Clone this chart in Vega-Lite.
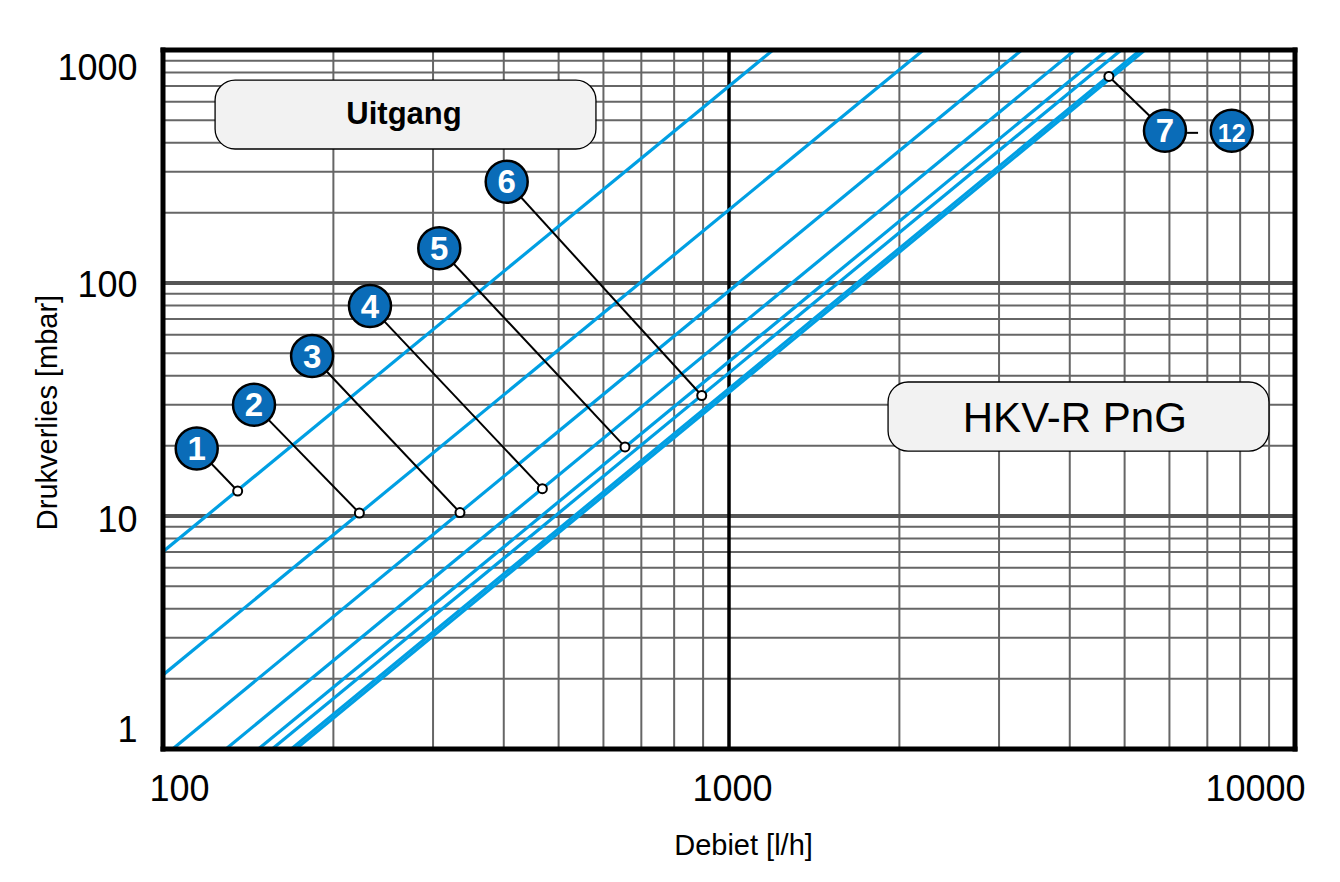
{
  "$schema": "https://vega.github.io/schema/vega-lite/v6.json",
  "width": 1132,
  "height": 699,
  "autosize": {"type": "none"},
  "padding": {"left": 163, "top": 50, "right": 45, "bottom": 133},
  "background": "white",
  "config": {"view": {"stroke": null}, "font": "Liberation Sans"},
  "datasets": {
    "xminor": [{"Q": 200}, {"Q": 300}, {"Q": 400}, {"Q": 500}, {"Q": 600}, {"Q": 700}, {"Q": 800}, {"Q": 900}, {"Q": 2000}, {"Q": 3000}, {"Q": 4000}, {"Q": 5000}, {"Q": 6000}, {"Q": 7000}, {"Q": 8000}, {"Q": 9000}],
    "xmajor": [{"Q": 1000}],
    "yminor": [{"p": 2}, {"p": 3}, {"p": 4}, {"p": 5}, {"p": 6}, {"p": 7}, {"p": 8}, {"p": 9}, {"p": 20}, {"p": 30}, {"p": 40}, {"p": 50}, {"p": 60}, {"p": 70}, {"p": 80}, {"p": 90}, {"p": 200}, {"p": 300}, {"p": 400}, {"p": 500}, {"p": 600}, {"p": 700}, {"p": 800}, {"p": 900}],
    "ymajor": [{"p": 10}, {"p": 100}],
    "framex": [{"Q": 100}, {"Q": 10000}],
    "framey": [{"p": 1}, {"p": 1000}],
    "curves": [
      {"id": "1", "Q": 100, "p": 7.03}, {"id": "1", "Q": 1196, "p": 1000},
      {"id": "2", "Q": 100, "p": 2.08}, {"id": "2", "Q": 2205, "p": 1000},
      {"id": "3", "Q": 104, "p": 1}, {"id": "3", "Q": 3290, "p": 1000},
      {"id": "4", "Q": 129.2, "p": 1}, {"id": "4", "Q": 4085, "p": 1000},
      {"id": "5", "Q": 147.4, "p": 1}, {"id": "5", "Q": 4660, "p": 1000},
      {"id": "6", "Q": 155.9, "p": 1}, {"id": "6", "Q": 4930, "p": 1000},
      {"id": "7a", "Q": 168.5, "p": 1}, {"id": "7a", "Q": 5330, "p": 1000},
      {"id": "7b", "Q": 171.7, "p": 1}, {"id": "7b", "Q": 5430, "p": 1000}
    ],
    "leaders": [
      {"id": "1", "Q": 114.7, "p": 19.5}, {"id": "1", "Q": 135.5, "p": 12.8},
      {"id": "2", "Q": 144.8, "p": 30.0}, {"id": "2", "Q": 222.3, "p": 10.3},
      {"id": "3", "Q": 183.4, "p": 48.6}, {"id": "3", "Q": 334.7, "p": 10.35},
      {"id": "4", "Q": 232.1, "p": 79.6}, {"id": "4", "Q": 468, "p": 13.1},
      {"id": "5", "Q": 307.7, "p": 140.9}, {"id": "5", "Q": 655, "p": 19.8},
      {"id": "6", "Q": 404.8, "p": 272.2}, {"id": "6", "Q": 895, "p": 32.9},
      {"id": "7", "Q": 5892, "p": 450}, {"id": "7", "Q": 4690, "p": 770},
      {"id": "d", "Q": 6446, "p": 441}, {"id": "d", "Q": 6741, "p": 441}
    ],
    "markers": [
      {"id": "1", "Q": 135.5, "p": 12.8},
      {"id": "2", "Q": 222.3, "p": 10.3},
      {"id": "3", "Q": 334.7, "p": 10.35},
      {"id": "4", "Q": 468, "p": 13.1},
      {"id": "5", "Q": 655, "p": 19.8},
      {"id": "6", "Q": 895, "p": 32.9},
      {"id": "7", "Q": 4690, "p": 770}
    ],
    "badges": [
      {"n": "1", "Q": 114.7, "p": 19.5},
      {"n": "2", "Q": 144.8, "p": 30.0},
      {"n": "3", "Q": 183.4, "p": 48.6},
      {"n": "4", "Q": 232.1, "p": 79.6},
      {"n": "5", "Q": 307.7, "p": 140.9},
      {"n": "6", "Q": 404.8, "p": 272.2},
      {"n": "7", "Q": 5892, "p": 450},
      {"n": "12", "Q": 7731, "p": 450}
    ],
    "boxes": [
      {"name": "Uitgang", "Q": 123.6, "Q2": 582, "p": 376, "p2": 743},
      {"name": "HKV", "Q": 1910, "Q2": 8994, "p": 19.0, "p2": 37.6}
    ],
    "boxtext1": [{"t": "Uitgang", "Q": 266.6, "p": 480}],
    "boxtext2": [{"t": "HKV-R PnG", "Q": 4083, "p": 23.0}]
  },
  "layer": [
    {
      "data": {"name": "xminor"},
      "mark": {"type": "rule", "color": "#666666", "strokeWidth": 2},
      "encoding": {
        "x": {
          "field": "Q", "type": "quantitative", "title": "Debiet [l/h]",
          "scale": {"type": "log", "domain": [100, 10000], "nice": false},
          "axis": {
            "values": [100, 1000, 10000], "format": "d",
            "grid": false, "domain": false, "ticks": false, "tickSize": 0,
            "labelFontSize": 36, "labelColor": "black", "labelFont": "Liberation Sans",
            "labelBaseline": "alphabetic", "labelPadding": 51, "labelAlign": "center",
            "labelOffset": {"condition": [{"test": "datum.value == 100", "value": 16}, {"test": "datum.value == 10000", "value": -40}], "value": 3},
            "labelOverlap": false, "labelFlush": false, "labelBound": false,
            "title": "Debiet [l/h]", "titleFontSize": 29, "titleFontWeight": "normal",
            "titleColor": "black", "titleFont": "Liberation Sans",
            "titleX": 580, "titleY": 105, "titleBaseline": "alphabetic", "titleAlign": "center"
          }
        }
      }
    },
    {
      "data": {"name": "yminor"},
      "mark": {"type": "rule", "color": "#666666", "strokeWidth": 2},
      "encoding": {
        "y": {
          "field": "p", "type": "quantitative", "title": "Drukverlies [mbar]",
          "scale": {"type": "log", "domain": [1, 1000], "nice": false},
          "axis": {
            "values": [1, 10, 100, 1000], "format": "d",
            "grid": false, "domain": false, "ticks": false, "tickSize": 0,
            "labelFontSize": 36, "labelColor": "black", "labelFont": "Liberation Sans",
            "labelBaseline": "alphabetic", "labelAlign": "right", "labelPadding": 26,
            "labelOffset": {"condition": [{"test": "datum.value == 1000", "value": 29}, {"test": "datum.value == 1", "value": -8}, {"test": "datum.value == 10", "value": 15}], "value": 13},
            "labelOverlap": false, "labelFlush": false, "labelBound": false,
            "title": "Drukverlies [mbar]", "titleFontSize": 29, "titleFontWeight": "normal",
            "titleColor": "black", "titleFont": "Liberation Sans",
            "titleX": -107, "titleY": 362, "titleAngle": 270, "titleBaseline": "alphabetic", "titleAlign": "center"
          }
        }
      }
    },
    {
      "data": {"name": "ymajor"},
      "mark": {"type": "rule", "color": "#555555", "strokeWidth": 4},
      "encoding": {
        "y": {"field": "p", "type": "quantitative", "title": "Drukverlies [mbar]", "scale": {"type": "log", "domain": [1, 1000], "nice": false}}
      }
    },
    {
      "data": {"name": "xmajor"},
      "mark": {"type": "rule", "color": "black", "strokeWidth": 3.5},
      "encoding": {
        "x": {"field": "Q", "type": "quantitative", "title": "Debiet [l/h]", "scale": {"type": "log", "domain": [100, 10000], "nice": false}}
      }
    },
    {
      "data": {"name": "curves"},
      "mark": {"type": "line", "color": "#009fe3", "strokeWidth": 3.2, "clip": true},
      "encoding": {
        "x": {"field": "Q", "type": "quantitative", "title": "Debiet [l/h]", "scale": {"type": "log", "domain": [100, 10000], "nice": false}},
        "y": {"field": "p", "type": "quantitative", "title": "Drukverlies [mbar]", "scale": {"type": "log", "domain": [1, 1000], "nice": false}},
        "detail": {"field": "id", "type": "nominal"}
      }
    },
    {
      "data": {"name": "boxes"},
      "mark": {"type": "rect", "fill": "#f2f2f2", "stroke": "black", "strokeWidth": 1.3, "cornerRadius": 20},
      "encoding": {
        "x": {"field": "Q", "type": "quantitative", "title": "Debiet [l/h]", "scale": {"type": "log", "domain": [100, 10000], "nice": false}},
        "x2": {"field": "Q2"},
        "y": {"field": "p", "type": "quantitative", "title": "Drukverlies [mbar]", "scale": {"type": "log", "domain": [1, 1000], "nice": false}},
        "y2": {"field": "p2"}
      }
    },
    {
      "data": {"name": "boxtext1"},
      "mark": {"type": "text", "fontSize": 31, "fontWeight": "bold", "font": "Liberation Sans", "color": "black", "align": "center", "baseline": "alphabetic"},
      "encoding": {
        "x": {"field": "Q", "type": "quantitative", "title": "Debiet [l/h]", "scale": {"type": "log", "domain": [100, 10000], "nice": false}},
        "y": {"field": "p", "type": "quantitative", "title": "Drukverlies [mbar]", "scale": {"type": "log", "domain": [1, 1000], "nice": false}},
        "text": {"field": "t"}
      }
    },
    {
      "data": {"name": "boxtext2"},
      "mark": {"type": "text", "fontSize": 42, "font": "Liberation Sans", "color": "black", "align": "center", "baseline": "alphabetic"},
      "encoding": {
        "x": {"field": "Q", "type": "quantitative", "title": "Debiet [l/h]", "scale": {"type": "log", "domain": [100, 10000], "nice": false}},
        "y": {"field": "p", "type": "quantitative", "title": "Drukverlies [mbar]", "scale": {"type": "log", "domain": [1, 1000], "nice": false}},
        "text": {"field": "t"}
      }
    },
    {
      "data": {"name": "leaders"},
      "mark": {"type": "line", "color": "black", "strokeWidth": 2},
      "encoding": {
        "x": {"field": "Q", "type": "quantitative", "title": "Debiet [l/h]", "scale": {"type": "log", "domain": [100, 10000], "nice": false}},
        "y": {"field": "p", "type": "quantitative", "title": "Drukverlies [mbar]", "scale": {"type": "log", "domain": [1, 1000], "nice": false}},
        "detail": {"field": "id", "type": "nominal"}
      }
    },
    {
      "data": {"name": "markers"},
      "mark": {"type": "point", "shape": "circle", "filled": true, "fill": "white", "stroke": "black", "strokeWidth": 2, "size": 81, "opacity": 1},
      "encoding": {
        "x": {"field": "Q", "type": "quantitative", "title": "Debiet [l/h]", "scale": {"type": "log", "domain": [100, 10000], "nice": false}},
        "y": {"field": "p", "type": "quantitative", "title": "Drukverlies [mbar]", "scale": {"type": "log", "domain": [1, 1000], "nice": false}}
      }
    },
    {
      "data": {"name": "badges"},
      "mark": {"type": "point", "shape": "circle", "filled": true, "fill": "#0a6cb8", "stroke": "black", "strokeWidth": 2.5, "size": 1764, "opacity": 1},
      "encoding": {
        "x": {"field": "Q", "type": "quantitative", "title": "Debiet [l/h]", "scale": {"type": "log", "domain": [100, 10000], "nice": false}},
        "y": {"field": "p", "type": "quantitative", "title": "Drukverlies [mbar]", "scale": {"type": "log", "domain": [1, 1000], "nice": false}}
      }
    },
    {
      "data": {"name": "badges"},
      "mark": {"type": "text", "font": "Liberation Sans", "fontWeight": "bold", "color": "white", "align": "center", "baseline": "alphabetic", "dy": 11.5},
      "encoding": {
        "x": {"field": "Q", "type": "quantitative", "title": "Debiet [l/h]", "scale": {"type": "log", "domain": [100, 10000], "nice": false}},
        "y": {"field": "p", "type": "quantitative", "title": "Drukverlies [mbar]", "scale": {"type": "log", "domain": [1, 1000], "nice": false}},
        "text": {"field": "n"},
        "size": {"condition": {"test": "datum.n == '12'", "value": 25}, "value": 33}
      }
    },
    {
      "data": {"name": "framex"},
      "mark": {"type": "rule", "color": "black", "strokeWidth": 5, "strokeCap": "square"},
      "encoding": {
        "x": {"field": "Q", "type": "quantitative", "title": "Debiet [l/h]", "scale": {"type": "log", "domain": [100, 10000], "nice": false}}
      }
    },
    {
      "data": {"name": "framey"},
      "mark": {"type": "rule", "color": "black", "strokeWidth": 5, "strokeCap": "square"},
      "encoding": {
        "y": {"field": "p", "type": "quantitative", "title": "Drukverlies [mbar]", "scale": {"type": "log", "domain": [1, 1000], "nice": false}}
      }
    }
  ]
}
